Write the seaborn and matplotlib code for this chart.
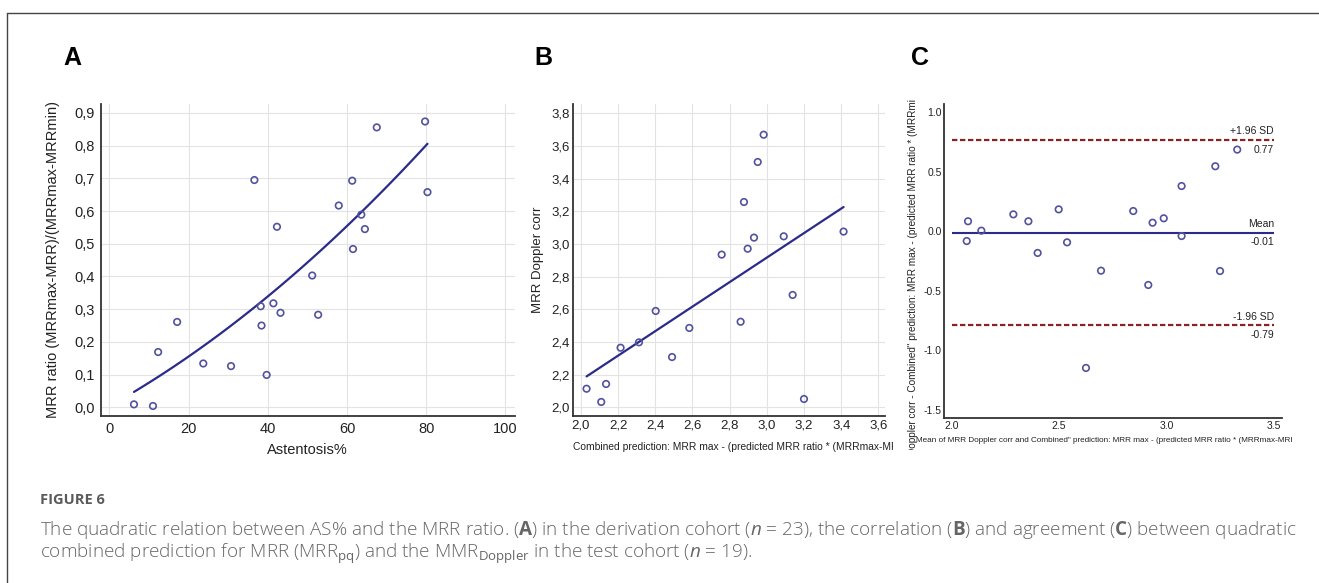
import matplotlib
matplotlib.use("Agg")
import numpy as np
import pandas as pd
import seaborn as sns
import matplotlib.pyplot as plt
from matplotlib.lines import Line2D
from matplotlib.ticker import MultipleLocator
from matplotlib.transforms import Bbox, TransformedBbox

# panel A - derivation cohort (n = 23)
astenosis = [6.2, 11.0, 12.3, 17.1, 23.7, 30.7, 36.6, 38.2, 38.4, 39.7, 41.4, 42.3,
             43.2, 51.2, 52.7, 57.9, 61.3, 61.5, 63.6, 64.5, 67.5, 79.7, 80.3]
mrr_ratio = [0.009, 0.004, 0.169, 0.261, 0.134, 0.126, 0.695, 0.309, 0.250, 0.099, 0.318, 0.552,
             0.289, 0.403, 0.283, 0.617, 0.693, 0.484, 0.589, 0.545, 0.856, 0.874, 0.658]

# panel B - test cohort (n = 19)
combined_pred = [2.030, 2.109, 2.135, 2.213, 2.312, 2.402, 2.490, 2.583, 2.757, 2.859,
                 2.877, 2.897, 2.931, 2.951, 2.983, 3.091, 3.139, 3.200, 3.413]
doppler_corr = [2.114, 2.033, 2.143, 2.365, 2.398, 2.590, 2.308, 2.486, 2.935, 2.524,
                3.257, 2.971, 3.039, 3.502, 3.669, 3.047, 2.688, 2.051, 3.076]

# panel C - Bland-Altman
ba_mean = [2.070, 2.076, 2.138, 2.287, 2.357, 2.400, 2.498, 2.537, 2.625, 2.695,
           2.845, 2.915, 2.935, 2.987, 3.070, 3.070, 3.227, 3.249, 3.329]
ba_diff = [-0.081, 0.085, 0.006, 0.143, 0.085, -0.181, 0.185, -0.092, -1.147, -0.330,
           0.171, -0.450, 0.073, 0.110, 0.381, -0.039, 0.547, -0.333, 0.687]
ba_levels = [0.77, -0.01, -0.79]
ba_names = ["+1.96 SD", "Mean", "-1.96 SD"]

a_xticks = [0, 20, 40, 60, 80, 100]
a_yticks = [0.0, 0.1, 0.2, 0.3, 0.4, 0.5, 0.6, 0.7, 0.8, 0.9]
b_xticks = [2.0, 2.2, 2.4, 2.6, 2.8, 3.0, 3.2, 3.4, 3.6]
b_yticks = [2.0, 2.2, 2.4, 2.6, 2.8, 3.0, 3.2, 3.4, 3.6, 3.8]
c_xticks = [2.0, 2.5, 3.0, 3.5]
c_yticks = [-1.5, -1.0, -0.5, 0.0, 0.5, 1.0]

sns.set_style("white")
plt.rcParams["font.family"] = ["Liberation Sans", "DejaVu Sans"]
plt.rcParams["mathtext.fontset"] = "custom"
plt.rcParams["mathtext.rm"] = "Open Sans"
plt.rcParams["mathtext.it"] = "Open Sans:italic"
plt.rcParams["mathtext.bf"] = "Open Sans:bold"

MARK = "#52529f"
LINE = "#2b2b8a"
RED = "#8a2222"
AXC = "#333333"
TXT = "#222222"

W, H = 1319, 583
fig = plt.figure(figsize=(W / 100, H / 100), dpi=100)


def fx(x):
    return x / W


def fy(y):
    return 1 - y / H


def comma(v):
    return f"{v:.1f}".replace(".", ",")


def style(ax, size, pad, grid=True):
    sns.despine(ax=ax)
    for s in ("left", "bottom"):
        ax.spines[s].set_color(AXC)
        ax.spines[s].set_linewidth(1.3)
    ax.tick_params(which="both", direction="in", color=AXC, labelcolor=TXT,
                   labelsize=size, pad=pad)
    ax.tick_params(which="major", length=6, width=1)
    ax.tick_params(which="minor", length=3, width=0.8)
    if grid:
        ax.grid(True, which="major", color="#e3e3e3", lw=0.8)
    ax.set_axisbelow(True)
    ax.set_xlabel("")
    ax.set_ylabel("")


pts = dict(s=22, facecolor="none", edgecolor=MARK, linewidth=1.2, zorder=3)

# ---- A
axA = fig.add_axes([fx(100.7), fy(416), fx(414.3), 312 / H])
sns.scatterplot(x=astenosis, y=mrr_ratio, ax=axA, **pts)
sns.regplot(x=astenosis, y=mrr_ratio, order=2, ci=None, scatter=False, ax=axA,
            line_kws=dict(color=LINE, lw=1.6))
axA.set_xlim(-2.2, 102.4)
axA.set_ylim(-0.0266, 0.9275)
axA.set_xticks(a_xticks)
axA.set_xticklabels([str(t) for t in a_xticks])
axA.set_yticks(a_yticks)
axA.set_yticklabels([comma(t) for t in a_yticks])
axA.xaxis.set_minor_locator(MultipleLocator(10))
axA.yaxis.set_minor_locator(MultipleLocator(0.05))
style(axA, 10.5, 4)

# ---- B
axB = fig.add_axes([fx(573.3), fy(416), fx(311.7), 312 / H])
sns.scatterplot(x=combined_pred, y=doppler_corr, ax=axB, **pts)
sns.regplot(x=combined_pred, y=doppler_corr, ci=None, scatter=False, ax=axB,
            line_kws=dict(color=LINE, lw=1.6))
axB.set_xlim(1.9586, 3.636)
axB.set_ylim(1.947, 3.857)
axB.set_xticks(b_xticks)
axB.set_xticklabels([comma(t) for t in b_xticks])
axB.set_yticks(b_yticks)
axB.set_yticklabels([comma(t) for t in b_yticks])
axB.xaxis.set_minor_locator(MultipleLocator(0.1))
axB.yaxis.set_minor_locator(MultipleLocator(0.1))
style(axB, 9.5, 2.5)

# ---- C
axC = fig.add_axes([fx(944.3), fy(418.3), fx(337.4), 314.3 / H])
sns.scatterplot(x=ba_mean, y=ba_diff, ax=axC, **pts)
for lvl, name in zip(ba_levels, ba_names):
    if name == "Mean":
        axC.hlines(lvl, c_xticks[0], c_xticks[-1], color=LINE, lw=1.5, zorder=2)
    else:
        axC.hlines(lvl, c_xticks[0], c_xticks[-1], color=RED, lw=1.6,
                   linestyles=(0, (2.4, 1.2)), zorder=2)
    axC.annotate(name, (c_xticks[-1], lvl), xytext=(0, 2.5), textcoords="offset points",
                 ha="right", va="bottom", fontsize=7.5, color=TXT)
    axC.annotate(f"{lvl:.2f}", (c_xticks[-1], lvl), xytext=(0, -3.5), textcoords="offset points",
                 ha="right", va="top", fontsize=7.5, color=TXT)
axC.set_xlim(1.9656, 3.536)
axC.set_ylim(-1.57, 1.07)
axC.set_xticks(c_xticks)
axC.set_xticklabels([f"{t:.1f}" for t in c_xticks])
axC.set_yticks(c_yticks)
axC.set_yticklabels([f"{t:.1f}" for t in c_yticks])
style(axC, 7.5, 2, grid=False)

# ---- axis titles (clipped like the cropped originals)
fig.text(fx(53), fy(259), "MRR ratio (MRRmax-MRR)/(MRRmax-MRRmin)", rotation=90,
         ha="center", va="center", fontsize=10.5, color=TXT)
fig.text(fx(307), fy(450), "Astentosis%", ha="center", va="center", fontsize=10.5,
         color=TXT)
fig.text(fx(538), fy(260), "MRR Doppler corr", rotation=90, ha="center", va="center",
         fontsize=9.5, color=TXT)

clipB = TransformedBbox(Bbox.from_extents(fx(560), 0, fx(893), 1), fig.transFigure)
clipC = TransformedBbox(Bbox.from_extents(fx(895), fy(450), fx(1293), fy(90)), fig.transFigure)

t = fig.text(fx(573), fy(447), "Combined prediction: MRR max - (predicted MRR ratio * (MRRmax-MRRmi",
             ha="left", va="center", fontsize=7.4, color=TXT)
t.set_clip_box(clipB)
t.set_clip_on(True)

t = fig.text(fx(916), fy(441),
             'Mean of MRR Doppler corr and Combined" prediction: MRR max - (predicted MRR ratio * (MRRmax-MRI',
             ha="left", va="center", fontsize=5.9, color=TXT)
t.set_clip_box(clipC)
t.set_clip_on(True)

t = fig.text(fx(913), fy(455),
             'Doppler corr - Combined" prediction: MRR max - (predicted MRR ratio * (MRRmi',
             rotation=90, ha="center", va="bottom", fontsize=7.2, color=TXT)
t.set_clip_box(clipC)
t.set_clip_on(True)

# ---- panel letters
for letter, x in zip(["A", "B", "C"], [72, 543, 920]):
    fig.text(fx(x), fy(58), letter, ha="center", va="center", fontsize=18,
             fontweight="bold", color="black")

# ---- frame
fig.add_artist(Line2D([fx(6.5), 1], [fy(13.3), fy(13.3)], color="#444444", lw=1))
fig.add_artist(Line2D([fx(6.5), fx(6.5)], [0, fy(13.3)], color="#444444", lw=1))

# ---- caption
fig.text(fx(40), fy(500), "FIGURE 6", ha="left", va="center", fontsize=10.5,
         family="Open Sans", fontweight="bold", color="#5a5a5a")
fig.text(fx(40), fy(530),
         r"The quadratic relation between AS% and the MRR ratio. ($\mathbf{A}$) in the derivation cohort "
         r"($\mathit{n}$ = 23), the correlation ($\mathbf{B}$) and agreement ($\mathbf{C}$) between quadratic",
         ha="left", va="center", fontsize=13.6, family="Open Sans", fontweight="light", color="#666666")
fig.text(fx(40), fy(554),
         r"combined prediction for MRR (MRR$_{\mathrm{pq}}$) and the MMR$_{\mathrm{Doppler}}$ "
         r"in the test cohort ($\mathit{n}$ = 19).",
         ha="left", va="center", fontsize=13.6, family="Open Sans", fontweight="light", color="#666666")

fig.savefig("out.png", dpi=100)
